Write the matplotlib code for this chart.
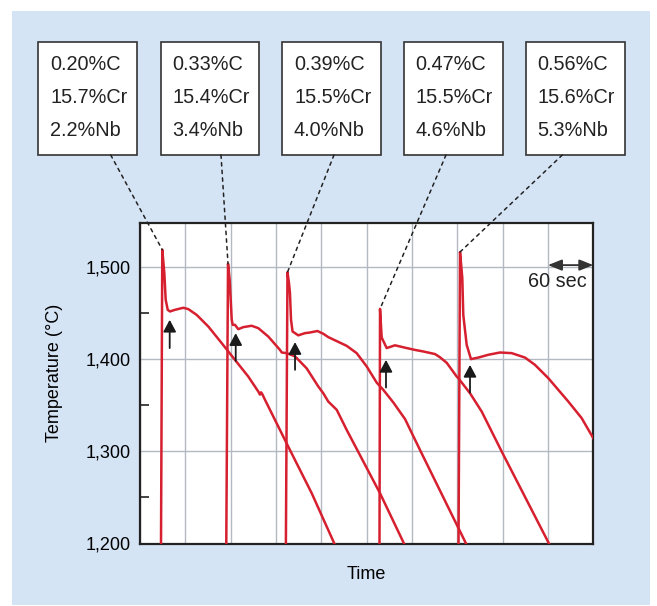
import numpy as np
import matplotlib.pyplot as plt
from matplotlib.patches import Rectangle, ConnectionPatch

plt.rcParams['font.family'] = ['Liberation Sans', 'DejaVu Sans']

# cooling curves, time in seconds, temperature in deg C
c1_t = [27.8, 29.5, 32.2, 34.0, 36.7, 39.7, 46.3, 57.3, 63.9, 75.0, 90.4, 108.1, 125.7, 143.3,
        156.6, 158.8, 160.2, 161.9, 165.5, 196.3, 227.3, 257.2]
c1_T = [1200, 1518.7, 1493.4, 1464.4, 1453.5, 1451.7, 1453.5, 1455.7, 1454.3, 1448, 1435.4, 1417.4,
        1399.2, 1381.1, 1364.8, 1361.5, 1364, 1362, 1355.8, 1305, 1254.5, 1200]

c2_t = [114.2, 116.5, 118.7, 121.4, 122.7, 125.7, 130.1, 136.7, 147.8, 156.6, 169.8, 185.3, 187.6,
        194.2, 205.2, 220.6, 236, 242.6, 249.2, 260.4, 273.6, 317.7, 349.4]
c2_T = [1200, 1503.5, 1486, 1442.7, 1437.2, 1437.2, 1432.5, 1434.7, 1436.2, 1433.6, 1424.5, 1410,
        1407.2, 1406.5, 1403, 1390, 1370.3, 1363, 1354, 1345, 1323.2, 1254.5, 1200]

c3_t = [193.1, 195.2, 197.2, 198.5, 199.9, 201.9, 209.5, 218.4, 225, 234.9, 242.6, 249.2, 273.6,
        286.8, 300.1, 313.3, 322, 335.3, 350.8, 370.6, 431.5]
c3_T = [1200, 1494.3, 1482.5, 1471.6, 1442.7, 1430, 1425.8, 1428.2, 1428.9, 1430.5, 1427.5, 1423.9,
        1414.4, 1406.5, 1392, 1374.5, 1366.7, 1353, 1335, 1301.5, 1200]

c4_t = [317, 317.7, 319.9, 326.5, 337.5, 353, 364, 375, 390.5, 397.1, 406, 419.2, 421.3, 436.8,
        452.3, 478.8, 541.3]
c4_T = [1200, 1454.5, 1423.5, 1412, 1415, 1412, 1410, 1408.3, 1405.5, 1402, 1396, 1381.1, 1379.4,
        1363, 1343.1, 1299.7, 1200]

c5_t = [421.6, 423.6, 426.6, 427.9, 432.4, 438.1, 447.8, 461, 476.5, 492, 509.6, 522.8, 540.4,
        566.9, 584.6, 600]
c5_T = [1200, 1516.2, 1488, 1448, 1415.5, 1400, 1401.7, 1404.7, 1407.2, 1406.5, 1401.7, 1393.8,
        1379.4, 1354, 1336, 1314.2]

curves = [(c1_t, c1_T), (c2_t, c2_T), (c3_t, c3_T), (c4_t, c4_T), (c5_t, c5_T)]

# small arrows under each dip
arrow_t = [39.3, 126.7, 205.2, 325.6, 436.8]
arrow_tip = [1442.7, 1428.2, 1418.5, 1399.2, 1393.8]
arrow_tail = [1412, 1398, 1388.4, 1369.2, 1363.7]

# compositions
carbon = ['0.20', '0.33', '0.39', '0.47', '0.56']
chromium = ['15.7', '15.4', '15.5', '15.5', '15.6']
niobium = ['2.2', '3.4', '4.0', '4.6', '5.3']

y_ticks = [1200, 1300, 1400, 1500]
y_minor = [1250, 1350, 1450]

red = '#d61f2f'

fig = plt.figure(figsize=(6.57, 6.06), dpi=100)

# blue panel behind everything
bg = fig.add_axes([0, 0, 1, 1], zorder=-1)
bg.set_xlim(0, 657)
bg.set_ylim(606, 0)
bg.axis('off')
bg.add_patch(Rectangle((12, 11), 638, 594, facecolor='#d5e4f5', edgecolor='none'))

ax = fig.add_axes([140 / 657, 1 - 543.5 / 606, 453.3 / 657, 320.8 / 606], zorder=1)
ax.set_facecolor('white')
ax.set_xlim(0, 600)
ax.set_ylim(1200, 1548)
ax.set_xticks(np.arange(0, 601, 60))
ax.set_xticklabels([])
ax.tick_params(axis='x', length=0)
ax.set_yticks(y_ticks)
ax.set_yticklabels(['{:,}'.format(v) for v in y_ticks], fontsize=13)
ax.set_yticks(y_minor, minor=True)
ax.tick_params(axis='y', which='major', length=0, pad=7)
ax.tick_params(axis='y', which='minor', direction='in', length=6.5, width=1.2, color='#222222')
ax.grid(True, which='major', color='#b3b8c3', lw=1)
ax.set_axisbelow(True)
for s in ax.spines.values():
    s.set_linewidth(1.6)
    s.set_color('#222222')

for t, T in curves:
    ax.plot(t, T, color=red, lw=1.8, solid_joinstyle='round', zorder=3)

for t, tip, tail in zip(arrow_t, arrow_tip, arrow_tail):
    ax.annotate('', xy=(t, tip), xytext=(t, tail),
                arrowprops=dict(arrowstyle='-|>,head_length=0.6,head_width=0.32',
                                color='#1a1a1a', lw=1.3, mutation_scale=12,
                                shrinkA=0, shrinkB=0), zorder=4)

# 60 sec scale marker
ax.annotate('', xy=(540, 1502), xytext=(600, 1502),
            arrowprops=dict(arrowstyle='<|-|>,head_length=0.7,head_width=0.28',
                            color='#333333', lw=1.3, mutation_scale=12,
                            shrinkA=0, shrinkB=0), annotation_clip=False, zorder=4)
ax.text(553, 1484, '60 sec', fontsize=14.3, ha='center', va='center', color='#222222', zorder=4)

ax.set_xlabel('Time', fontsize=13)
ax.xaxis.set_label_coords(0.5, -0.07)
ax.set_ylabel('Temperature (\u00b0C)', fontsize=13)
ax.yaxis.set_label_coords(-0.169, 0.531)

# boxes with compositions and dashed leaders
ov = fig.add_axes([0, 0, 1, 1], zorder=3)
ov.set_xlim(0, 657)
ov.set_ylim(606, 0)
ov.axis('off')
ov.patch.set_alpha(0)

box_left = [38.3, 160.7, 282.3, 404, 526]
leader_x = [110.7, 221, 334, 446, 562.3]
box_top, box_bot, box_w = 41.5, 155, 98.5
for i in range(5):
    x0 = box_left[i]
    ov.add_patch(Rectangle((x0, box_top), box_w, box_bot - box_top,
                           facecolor='white', edgecolor='#333333', lw=1.2))
    lines = [carbon[i] + '%C', chromium[i] + '%Cr', niobium[i] + '%Nb']
    for j, s in enumerate(lines):
        ov.text(x0 + 11.7, 65 + 32.5 * j, s, fontsize=14.3, ha='left', va='center', color='#222222')
    t, T = curves[i]
    k = int(np.argmax(T))
    con = ConnectionPatch(xyA=(leader_x[i], box_bot), coordsA=ov.transData,
                          xyB=(t[k], T[k]), coordsB=ax.transData,
                          color='#222222', lw=1.1, linestyle=(0, (2.2, 2.8)))
    ov.add_artist(con)

fig.savefig('out.png', dpi=100)
